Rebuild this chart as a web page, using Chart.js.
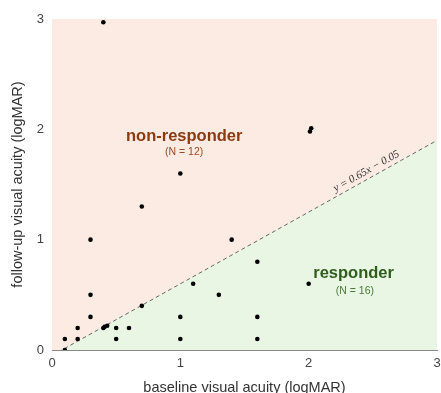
<!DOCTYPE html>
<html>
<head>
<meta charset="utf-8">
<title>Visual acuity: baseline vs follow-up</title>
<script src="https://cdn.jsdelivr.net/npm/chart.js"></script>
<style>
  html, body { margin: 0; padding: 0; background: #fff; }
  #wrap { width: 441px; height: 393px; }
</style>
</head>
<body>
<div id="wrap"><canvas id="chart"></canvas></div>
<script>
// patients (logMAR)
const BASELINE = [0.1, 0.2, 0.2, 0.3, 0.3, 0.3, 0.4, 0.7, 1.0, 1.4, 2.01, 2.02,
                  0.1, 0.4, 0.41, 0.43, 0.5, 0.5, 0.6, 0.7, 1.0, 1.0, 1.1, 1.3, 1.6, 1.6, 1.6, 2.0];
const FOLLOWUP = [0.1, 0.2, 0.1, 1.0, 0.5, 0.3, 2.97, 1.3, 1.6, 1.0, 1.98, 2.01,
                  0.0, 0.2, 0.21, 0.22, 0.2, 0.1, 0.2, 0.4, 0.3, 0.1, 0.6, 0.5, 0.8, 0.3, 0.1, 0.6];

// responder boundary y = 0.65x - 0.05
const SLOPE = 0.65;
const BOUNDARY_X = [0, 3];
const BOUNDARY_Y = [-0.05, 1.9];

const X_TICKS = [0, 1, 2, 3];
const Y_TICKS = [0, 1, 2, 3];

const N_NONRESP = 12, N_RESP = 16;

const FONT = '"Liberation Sans", Arial, sans-serif';

// text drawn in data coords
const NOTES = [
  { text: 'non-responder', x: 1.03, y: 1.94, font: 'bold 16.5px ' + FONT, color: '#8b3a12' },
  { text: '(N = ' + N_NONRESP + ')', x: 1.03, y: 1.79, font: '10.5px ' + FONT, color: '#9a4a26' },
  { text: 'responder', x: 2.35, y: 0.69, font: 'bold 16.5px ' + FONT, color: '#2f5e1c' },
  { text: '(N = ' + N_RESP + ')', x: 2.36, y: 0.53, font: '10.5px ' + FONT, color: '#4b7a38' },
  { text: 'y = 0.65x \u2212 0.05', x: 2.45, y: 1.62, font: 'italic 11px "Liberation Serif", serif', color: '#333', alongLine: true }
];

const notesPlugin = {
  id: 'notes',
  afterDatasetsDraw(chart) {
    const { ctx, scales: { x, y } } = chart;
    const ang = Math.atan2(y.getPixelForValue(SLOPE) - y.getPixelForValue(0),
                           x.getPixelForValue(1) - x.getPixelForValue(0));
    ctx.save();
    ctx.textAlign = 'center';
    ctx.textBaseline = 'middle';
    NOTES.forEach(n => {
      ctx.save();
      ctx.translate(x.getPixelForValue(n.x), y.getPixelForValue(n.y));
      if (n.alongLine) ctx.rotate(ang);
      ctx.font = n.font;
      ctx.fillStyle = n.color;
      ctx.fillText(n.text, 0, 0);
      ctx.restore();
    });
    ctx.restore();
  }
};

const boundary = BOUNDARY_X.map((v, i) => ({ x: v, y: BOUNDARY_Y[i] }));
const points = BASELINE.map((v, i) => ({ x: v, y: FOLLOWUP[i] }));

new Chart(document.getElementById('chart'), {
  type: 'scatter',
  data: {
    datasets: [
      { label: 'patients', data: points, backgroundColor: '#000', borderWidth: 0,
        pointRadius: 2.3, order: 0 },
      { label: 'boundary', data: boundary, showLine: true, pointRadius: 0,
        borderColor: '#666', borderWidth: 1, borderDash: [4, 3],
        fill: 'end', backgroundColor: '#fbebe3', order: 1 },
      { label: 'responder area', data: boundary, showLine: true, pointRadius: 0,
        borderWidth: 0, fill: 'start', backgroundColor: '#e9f6e3', order: 2 }
    ]
  },
  options: {
    responsive: true,
    maintainAspectRatio: false,
    animation: false,
    layout: { padding: { left: 0, right: 0, top: 19, bottom: 0 } },
    plugins: { legend: { display: false }, tooltip: { enabled: false } },
    scales: {
      x: {
        type: 'linear', min: 0, max: 3,
        afterBuildTicks: s => { s.ticks = X_TICKS.map(v => ({ value: v })); },
        afterFit: s => { s.height = 43; s.paddingLeft = 0; s.paddingRight = 0; },
        grid: { display: false, drawTicks: false },
        border: { display: true, color: '#888', width: 1 },
        ticks: { padding: 6, color: '#444', font: { family: FONT, size: 13 } },
        title: { display: true, text: 'baseline visual acuity (logMAR)', color: '#333',
                 font: { family: FONT, size: 14.5, lineHeight: 1 }, padding: { top: 0, bottom: -2 } }
      },
      y: {
        type: 'linear', min: 0, max: 3,
        afterBuildTicks: s => { s.ticks = Y_TICKS.map(v => ({ value: v })); },
        afterFit: s => { s.width = 52; s.paddingTop = 0; s.paddingBottom = 0; },
        grid: { display: false, drawTicks: false },
        border: { display: true, color: '#888', width: 1 },
        ticks: { padding: 8, color: '#444', font: { family: FONT, size: 13 } },
        title: { display: true, text: 'follow-up visual acuity (logMAR)', color: '#333',
                 font: { family: FONT, size: 14.5, lineHeight: 1 }, padding: { top: 11, bottom: 0 } }
      }
    }
  },
  plugins: [notesPlugin]
});
</script>
</body>
</html>
